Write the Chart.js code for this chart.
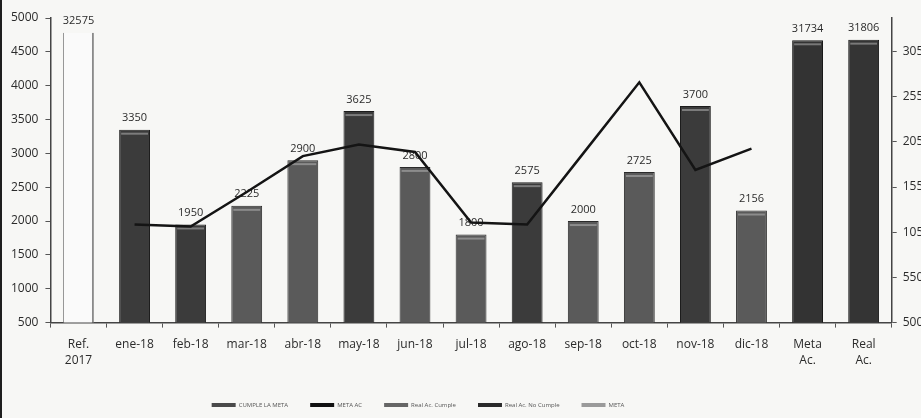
<!DOCTYPE html>
<html>
<head>
<meta charset="utf-8">
<script src="https://cdn.jsdelivr.net/npm/chart.js@4.4.1/dist/chart.umd.min.js"></script>
<style>
    html, body { margin: 0; padding: 0; overflow: hidden; background: #f7f7f5; }
    body { width: 921px; height: 418px; border-left: 2px solid #1e1e1e; box-sizing: border-box; }
    canvas { display: block; }
</style>
</head>
<body>
<canvas id="chart" width="941" height="418"></canvas>
<script>
// ── Data ──
const categories = [['Ref.', '2017'], 'ene-18', 'feb-18', 'mar-18', 'abr-18', 'may-18', 'jun-18',
                    'jul-18', 'ago-18', 'sep-18', 'oct-18', 'nov-18', 'dic-18', ['Meta', 'Ac.'], ['Real', 'Ac.']];

// months above the META line (dark bars)
const cumpleMeta = [null, 3350, 1950, null, null, 3625, null, null, 2575, null, null, 3700, null, null, null];
// months below the META line (grey bars)
const noCumpleMeta = [null, null, null, 2225, 2900, null, 2800, 1800, null, 2000, 2725, null, 2156, null, null];
// accumulated totals, right axis
const refValue = [32575, null, null, null, null, null, null, null, null, null, null, null, null, null, null];
const metaAc = [null, null, null, null, null, null, null, null, null, null, null, null, null, 31734, null];
const realAc = [null, null, null, null, null, null, null, null, null, null, null, null, null, null, 31806];
// monthly goal line, left axis
const metaLine = [null, 1950, 1920, 2430, 2960, 3130, 3020, 1980, 1950, 3000, 4050, 2755, 3070, null, null];

// tick labels
const leftTicks = [500, 1000, 1500, 2000, 2500, 3000, 3500, 4000, 4500, 5000];
const rightTicks = [500, 5500, 10500, 15500, 20500, 25500, 30500];
const rightMax = 34200;

const FONT = "'Open Sans', sans-serif";

// ── Value labels above the bars (drawn before the line so it passes over them) ──
const barLabels = {
    id: 'barLabels',
    beforeDatasetsDraw(chart) {
        const ctx = chart.ctx;
        ctx.save();
        ctx.font = `11px ${FONT}`;
        ctx.fillStyle = '#2b2b2b';
        ctx.textAlign = 'center';
        ctx.textBaseline = 'bottom';
        chart.data.datasets.forEach((ds, i) => {
            if (ds.type === 'line') return;
            chart.getDatasetMeta(i).data.forEach((bar, j) => {
                const v = ds.data[j];
                if (v == null) return;
                ctx.fillText(String(v), bar.x, bar.y - 6);
            });
        });
        ctx.restore();
    },
    // light stripe just under the top of each filled bar, like the scan
    afterDatasetDraw(chart, args) {
        const ds = chart.data.datasets[args.index];
        if (ds.type === 'line' || !ds.legendColor) return;
        const ctx = chart.ctx;
        ctx.save();
        ctx.fillStyle = 'rgba(190,190,190,0.5)';
        args.meta.data.forEach((bar, j) => {
            if (ds.data[j] == null) return;
            ctx.fillRect(bar.x - bar.width / 2 + 2, bar.y + 3, bar.width - 4, 2);
        });
        ctx.restore();
    },
    // shift the centred legend to the left, as in the original
    afterLayout(chart) {
        const lg = chart.legend;
        if (lg) { lg.left = 0; lg.right = 832; }
    }
};

const barBase = { type: 'bar', grouped: false, barPercentage: 0.55, categoryPercentage: 1, borderWidth: 1, order: 2 };
const plainTick = v => String(v);
const fixedTicks = list => axis => { axis.ticks = list.map(value => ({ value })); };

new Chart(document.getElementById('chart'), {
    data: {
        labels: categories,
        datasets: [
            { ...barBase, label: 'CUMPLE LA META', data: cumpleMeta, yAxisID: 'y',
              backgroundColor: '#3b3b3b', borderColor: '#1c1c1c', legendColor: '#4a4a4a' },
            { ...barBase, label: 'META AC', data: metaAc, yAxisID: 'y1',
              backgroundColor: '#333333', borderColor: '#161616', legendColor: '#111111' },
            { ...barBase, label: 'Real Ac. Cumple', data: noCumpleMeta, yAxisID: 'y',
              backgroundColor: '#5a5a5a', borderColor: '#2a2a2a', legendColor: '#666666' },
            { ...barBase, label: 'Real Ac. No Cumple', data: realAc, yAxisID: 'y1',
              backgroundColor: '#343434', borderColor: '#161616', legendColor: '#2a2a2a' },
            { type: 'line', label: 'META', data: metaLine, yAxisID: 'y', order: 0,
              borderColor: '#141414', borderWidth: 2.5, pointRadius: 0, tension: 0,
              backgroundColor: '#9a9a9a', legendColor: '#9a9a9a' },
            { ...barBase, label: 'Ref. 2017', data: refValue, yAxisID: 'y1',
              backgroundColor: '#fafafa', borderColor: '#8a8a8a', borderWidth: { left: 1, right: 2, top: 0, bottom: 0 } }
        ]
    },
    options: {
        responsive: false,
        animation: false,
        layout: { padding: { left: 2, right: 0, top: 18, bottom: 0 } },
        plugins: {
            tooltip: { enabled: false },
            legend: {
                position: 'bottom',
                labels: {
                    boxWidth: 24,
                    boxHeight: 4,
                    padding: 22,
                    color: '#555',
                    font: { size: 6, family: FONT },
                    sort: (a, b) => a.datasetIndex - b.datasetIndex,
                    filter: (item, data) => !!data.datasets[item.datasetIndex].legendColor,
                    generateLabels: chart => Chart.defaults.plugins.legend.labels.generateLabels(chart).map(item => {
                        const c = chart.data.datasets[item.datasetIndex].legendColor;
                        item.fillStyle = c;
                        item.strokeStyle = c;
                        item.lineWidth = 0;
                        return item;
                    })
                }
            }
        },
        scales: {
            x: {
                grid: { drawOnChartArea: false, drawTicks: true, tickLength: 5, color: '#555', offset: true },
                border: { color: '#444', width: 1.5 },
                afterFit: axis => { axis.height += 2; },
                ticks: { autoSkip: false, maxRotation: 0, padding: 9, color: '#2b2b2b',
                         font: { size: 12, family: FONT, lineHeight: 1.35 } }
            },
            y: {
                position: 'left',
                min: leftTicks[0], max: leftTicks[leftTicks.length - 1],
                grid: { drawOnChartArea: false, drawTicks: true, tickLength: 5, color: '#555' },
                border: { color: '#444', width: 1.5 },
                afterBuildTicks: fixedTicks(leftTicks),
                ticks: { padding: 7, color: '#2b2b2b', font: { size: 12, family: FONT }, callback: plainTick }
            },
            y1: {
                position: 'right',
                min: rightTicks[0], max: rightMax,
                grid: { drawOnChartArea: false, drawTicks: true, tickLength: 5, color: '#555' },
                border: { color: '#444', width: 1.5 },
                afterBuildTicks: fixedTicks(rightTicks),
                ticks: { padding: 6, color: '#2b2b2b', font: { size: 12, family: FONT }, callback: plainTick }
            }
        }
    },
    plugins: [barLabels]
});
</script>
</body>
</html>
